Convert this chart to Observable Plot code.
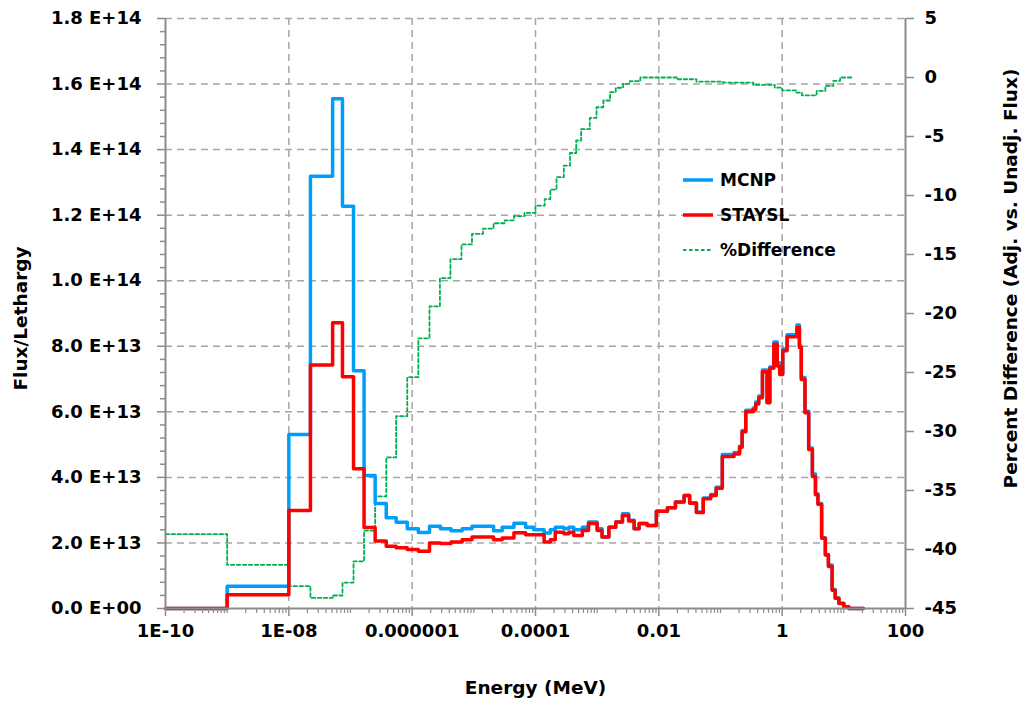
<!DOCTYPE html>
<html><head><meta charset="utf-8">
<script src="https://cdn.jsdelivr.net/npm/d3@7"></script>
<script src="https://cdn.jsdelivr.net/npm/@observablehq/plot@0.6"></script>
<style>
html,body{margin:0;padding:0;background:#fff;}
#wrap{position:relative;width:1026px;height:702px;overflow:hidden;}
#legend{position:absolute;left:683px;top:162px;font:bold 17px "DejaVu Sans",sans-serif;color:#000;}
#legend .row{display:flex;align-items:center;height:35px;}
#legend svg{width:30px;height:8px;margin-right:7px;}
</style></head>
<body><div id="wrap"><div id="legend"></div></div>
<script>
// Group boundaries (MeV) shared by the two flux spectra
const energyEdges = [1e-10, 1e-9, 1e-8, 2.24e-8, 5.13e-8, 7.41e-8, 1.12e-7, 1.66e-7, 2.51e-7, 3.80e-7,
  5.50e-7, 8.32e-7, 1.26e-6, 1.91e-6, 2.88e-6, 4.27e-6, 6.46e-6, 9.33e-6, 2.09e-5, 2.88e-5,
  4.47e-5, 6.92e-5, 9.33e-5, 1.38e-4, 1.74e-4, 2.09e-4, 2.88e-4, 3.47e-4, 4.17e-4, 5.75e-4,
  7.24e-4, 1.0e-3, 1.20e-3, 1.55e-3, 2.0e-3, 2.57e-3, 3.24e-3, 3.98e-3, 4.79e-3, 6.46e-3,
  9.12e-3, 1.38e-2, 1.86e-2, 2.57e-2, 3.16e-2, 4.07e-2, 5.25e-2, 6.92e-2, 8.51e-2, 0.107,
  0.166, 0.204, 0.224, 0.257, 0.339, 0.372, 0.417, 0.479, 0.569, 0.631,
  0.733, 0.832, 0.912, 1.023, 1.202, 1.738, 1.905, 2.042, 2.344, 2.692,
  3.090, 3.467, 3.802, 4.365, 5.012, 5.623, 6.457, 7.244, 8.318, 10,
  12.02, 20.9];
// Flux/lethargy per group, in units of 1E13
const mcnpFlux = [0, 0.68, 5.31, 13.19, 15.55, 12.27, 7.25, 4.06, 3.2, 2.77,
  2.63, 2.43, 2.32, 2.51, 2.43, 2.37, 2.43, 2.51, 2.37, 2.48,
  2.60, 2.48, 2.40, 2.30, 2.40, 2.48, 2.43, 2.48, 2.40, 2.48,
  2.64, 2.43, 2.18, 2.48, 2.64, 2.89, 2.69, 2.43, 2.59, 2.53,
  2.97, 3.07, 3.25, 3.45, 3.23, 2.94, 3.37, 3.48, 3.70, 4.70,
  4.76, 4.95, 5.43, 6.05, 6.12, 6.30, 6.48, 7.28, 6.3, 7.37,
  8.13, 7.50, 7.2, 7.92, 8.35, 8.65, 8.0, 7.05, 6.02, 4.9,
  4.1, 3.5, 3.2, 2.16, 1.65, 1.33, 0.58, 0.32, 0.16, 0.05, 0];
const stayslFlux = [0, 0.42, 2.99, 7.43, 8.72, 7.07, 4.26, 2.47, 2.06, 1.9,
  1.85, 1.80, 1.75, 2.0, 1.98, 2.03, 2.10, 2.18, 2.10, 2.15,
  2.31, 2.25, 2.25, 2.03, 2.10, 2.33, 2.28, 2.33, 2.23, 2.38,
  2.59, 2.38, 2.18, 2.48, 2.64, 2.84, 2.67, 2.43, 2.59, 2.53,
  2.97, 3.07, 3.25, 3.45, 3.21, 2.93, 3.35, 3.45, 3.67, 4.64,
  4.71, 4.92, 5.39, 6.0, 6.07, 6.24, 6.43, 7.22, 6.28, 7.33,
  8.06, 7.40, 7.14, 7.86, 8.29, 8.57, 7.96, 6.99, 5.97, 4.85,
  4.03, 3.47, 3.18, 2.14, 1.63, 1.28, 0.56, 0.31, 0.15, 0.05, 0];
// Percent difference (adjusted vs unadjusted), own boundaries
const pctEdges = [1e-10, 1e-9, 1e-8, 2.24e-8, 5.13e-8, 7.41e-8, 1.12e-7, 1.66e-7, 2.51e-7, 3.80e-7,
  5.50e-7, 8.32e-7, 1.26e-6, 1.91e-6, 2.82e-6, 4.17e-6, 6.31e-6, 9.33e-6, 1.41e-5, 2.09e-5,
  3.16e-5, 4.47e-5, 6.61e-5, 1e-4, 1.41e-4, 1.74e-4, 2.19e-4, 2.88e-4, 3.63e-4, 4.57e-4,
  5.50e-4, 7.59e-4, 9.77e-4, 1.26e-3, 1.62e-3, 2.0e-3, 2.63e-3, 3.39e-3, 5.01e-3, 2.0e-2,
  4.07e-2, 0.110, 0.339, 0.759, 1.0, 1.70, 2.09, 3.63, 5.01, 6.76, 8.71, 13.5];
const pctDiff = [-38.7, -41.3, -43.1, -44.1, -43.9, -42.8, -41.0, -38.4, -35.5, -32.2,
  -28.7, -25.4, -22.1, -19.4, -17.0, -15.4, -14.15, -13.25, -12.8, -12.35,
  -12.1, -11.75, -11.47, -10.85, -10.3, -9.5, -8.45, -7.46, -6.4, -5.34,
  -4.38, -3.42, -2.52, -1.95, -1.24, -0.87, -0.54, -0.31, 0.0, -0.15,
  -0.35, -0.43, -0.63, -0.86, -1.09, -1.28, -1.51, -1.14, -0.71, -0.28, 0.0];

const leftTicks = [0, 2e13, 4e13, 6e13, 8e13, 1e14, 1.2e14, 1.4e14, 1.6e14, 1.8e14];
const leftTickLabels = ["0.0 E+00","2.0 E+13","4.0 E+13","6.0 E+13","8.0 E+13","1.0 E+14","1.2 E+14","1.4 E+14","1.6 E+14","1.8 E+14"];
const rightTicks = [-45, -40, -35, -30, -25, -20, -15, -10, -5, 0, 5];
const xTicks = [1e-10, 1e-8, 1e-6, 1e-4, 1e-2, 1, 100];
const xTickLabels = ["1E-10", "1E-08", "0.000001", "0.0001", "0.01", "1", "100"];
const xGrid = [1e-8, 1e-6, 1e-4, 1e-2, 1];
const seriesNames = ["MCNP", "STAYSL", "%Difference"];
const colors = ["#009ef7", "#ff0000", "#00b050"];

const yMax = 1.8e14;
const pToY = p => (p + 45) / 50 * yMax;
const rightPos = rightTicks.map(pToY);

function stepRows(edges, vals, f) {
  const rows = vals.map((v, i) => ({E: edges[i], v: f(v)}));
  rows.push({E: edges[edges.length - 1], v: f(vals[vals.length - 1])});
  return rows;
}
const mcnpRows = stepRows(energyEdges, mcnpFlux, v => v * 1e13);
const stayslRows = stepRows(energyEdges, stayslFlux, v => v * 1e13);
const pctRows = stepRows(pctEdges, pctDiff, pToY);

const leftMinor = d3.range(0, 46).filter(i => i % 5).map(i => i * 4e12);
const xMinor = [];
for (let k = -10; k <= 1; k++) for (let n = 1; n <= 9; n++) {
  const v = n * Math.pow(10, k);
  if (!(n === 1 && k % 2 === 0)) xMinor.push(v);
}

const axisGray = "#8c8c8c";
const gridStyle = {stroke: "#a6a6a6", strokeWidth: 1.5, strokeDasharray: "7,5"};

const chart = Plot.plot({
  width: 1026, height: 702,
  marginLeft: 165, marginRight: 121, marginTop: 18, marginBottom: 94,
  x: {type: "log", domain: [1e-10, 100]},
  y: {domain: [0, yMax]},
  style: {fontFamily: "'DejaVu Sans', sans-serif", fontWeight: "bold", fontSize: "18px", background: "white", color: "black"},
  marks: [
    Plot.ruleY(leftTicks.slice(1), gridStyle),
    Plot.ruleX(xGrid, gridStyle),
    Plot.line(pctRows, {x: "E", y: "v", curve: "step-after", stroke: colors[2], strokeWidth: 1.8, strokeDasharray: "3.5,2.5"}),
    Plot.line(mcnpRows, {x: "E", y: "v", curve: "step-after", stroke: colors[0], strokeWidth: 3.5}),
    Plot.line(stayslRows, {x: "E", y: "v", curve: "step-after", stroke: colors[1], strokeWidth: 3.5}),
    Plot.ruleX([1e-10, 100], {stroke: axisGray, strokeWidth: 2}),
    Plot.ruleY([0], {stroke: axisGray, strokeWidth: 2}),
    Plot.axisY(leftMinor, {anchor: "left", tickSize: 5, tickFormat: () => "", label: null, stroke: axisGray, strokeWidth: 1.5}),
    Plot.axisY(leftTicks, {anchor: "left", tickSize: 8, tickPadding: 16, label: null, stroke: axisGray, strokeWidth: 1.5, fill: "black",
      tickFormat: d => leftTickLabels[leftTicks.indexOf(d)]}),
    Plot.axisY(rightPos, {anchor: "right", tickSize: 8, tickPadding: 11, label: null, stroke: axisGray, strokeWidth: 1.5, fill: "black",
      tickFormat: d => String(rightTicks[rightPos.indexOf(d)])}),
    Plot.axisX(xMinor, {anchor: "bottom", tickSize: 5, tickFormat: () => "", label: null, stroke: axisGray, strokeWidth: 1.2}),
    Plot.axisX(xTicks, {anchor: "bottom", tickSize: 8, tickPadding: 8, label: null, stroke: axisGray, strokeWidth: 1.5, fill: "black",
      tickFormat: d => xTickLabels[xTicks.indexOf(d)]}),
    Plot.text(["Flux/Lethargy"], {frameAnchor: "left", dx: -144, dy: 5, rotate: -90, textAnchor: "middle", lineAnchor: "middle", fontSize: 18.5, fontWeight: "bold", fill: "black"}),
    Plot.text(["Percent Difference (Adj. vs. Unadj. Flux)"], {frameAnchor: "right", dx: 106, dy: -35, rotate: -90, textAnchor: "middle", lineAnchor: "middle", fontSize: 18.5, fontWeight: "bold", fill: "black"}),
    Plot.text(["Energy (MeV)"], {frameAnchor: "bottom", dy: 80, textAnchor: "middle", lineAnchor: "middle", fontSize: 18.5, fontWeight: "bold", fill: "black"})
  ]
});
const wrap = document.getElementById("wrap");
wrap.insertBefore(chart, wrap.firstChild);

const legend = document.getElementById("legend");
seriesNames.forEach((name, i) => {
  const row = document.createElement("div");
  row.className = "row";
  const dash = i === 2 ? ' stroke-dasharray="3.5,2.5"' : "";
  const sw = i === 2 ? 1.8 : 3.5;
  row.innerHTML = `<svg viewBox="0 0 30 8"><line x1="0" y1="4" x2="30" y2="4" stroke="${colors[i]}" stroke-width="${sw}"${dash}/></svg><span>${name}</span>`;
  legend.appendChild(row);
});
</script>
</body></html>
